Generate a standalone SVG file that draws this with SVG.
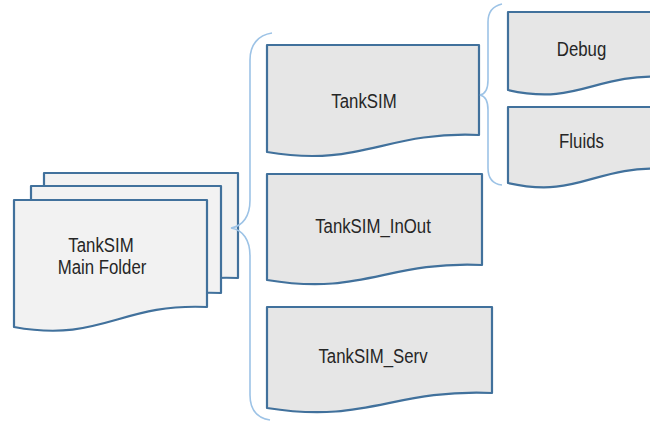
<svg xmlns="http://www.w3.org/2000/svg" width="650" height="423" viewBox="0 0 650 423">
<style>
.doc{fill:#e6e6e6;stroke:#41719c;stroke-width:2.2;stroke-linejoin:round}
.page{fill:#f2f2f2;stroke:#41719c;stroke-width:2.2;stroke-linejoin:round}
.brace{fill:none;stroke:#9dc3e6;stroke-width:1.6}
.lbl{font-family:"Liberation Sans",Arial,sans-serif;font-size:21px;fill:#262626;text-anchor:middle}
</style>
<rect width="650" height="423" fill="#ffffff"/>
<g id="main-folder">
<path class="page" d="M44,173 H238 V278 C150.7,274 131.3,314 44,298 Z"/>
<path class="page" d="M31,186 H221 V293 C135.5,289 116.5,329 31,313 Z"/>
<path class="page" d="M14,200 H207 V307 C120,303 101,343 14,327 Z"/>
<text class="lbl" transform="translate(101,252) scale(0.8,1)">TankSIM</text>
<text class="lbl" transform="translate(102,274) scale(0.8,1)">Main Folder</text>
</g>
<g id="tanksim">
<path class="doc" d="M267,45 H479 V135 C383.6,131 362.4,168 267,152 Z"/>
<text class="lbl" transform="translate(364,108) scale(0.8,1)">TankSIM</text>
</g>
<g id="tanksim-inout">
<path class="doc" d="M267,174 H482 V265 C385.25,261 363.75,296 267,280 Z"/>
<text class="lbl" transform="translate(373,233) scale(0.8,1)">TankSIM_InOut</text>
</g>
<g id="tanksim-serv">
<path class="doc" d="M267,307 H492 V393 C390.75,389 368.25,424 267,408 Z"/>
<text class="lbl" transform="translate(373,363) scale(0.8,1)">TankSIM_Serv</text>
</g>
<g id="debug">
<path class="doc" d="M508,12 H665 V77 C594.35,73 578.65,106 508,90 Z"/>
<text class="lbl" transform="translate(581.5,56) scale(0.8,1)">Debug</text>
</g>
<g id="fluids">
<path class="doc" d="M508,107 H665 V169 C594.35,165 578.65,199 508,183 Z"/>
<text class="lbl" transform="translate(581.5,148) scale(0.8,1)">Fluids</text>
</g>
<g id="connectors">
<path class="brace" d="M272,33 C258,35 250,45 250,60 L250,200 C250,216 243,226 231,228 C243,230 250,240 250,256 L250,395 C250,410 258,418 270,420"/>
<path class="brace" d="M502,4 C493,6 488,12 488,22 L488,80 C488,89 485,94 480,95 C485,96 488,101 488,110 L488,168 C488,178 493,184 502,185"/>
</g>
</svg>
